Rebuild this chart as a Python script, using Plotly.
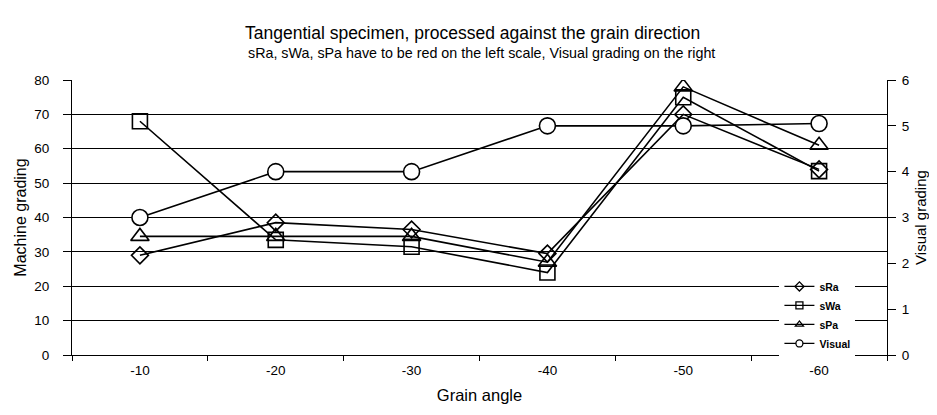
import plotly.graph_objects as go

categories = ["-10", "-20", "-30", "-40", "-50", "-60"]
sRa = [29.0, 38.5, 36.5, 29.5, 70.0, 54.0]
sWa = [68.0, 33.5, 31.5, 24.0, 75.0, 53.5]
sPa = [34.5, 34.5, 34.5, 27.0, 78.0, 61.0]
visual = [3.0, 4.0, 4.0, 5.0, 5.0, 5.05]

left_ticks = [0, 10, 20, 30, 40, 50, 60, 70, 80]
right_ticks = [0, 1, 2, 3, 4, 5, 6]

FONT = "Liberation Sans"
line_style = dict(color="black", width=1.6)

series = [
    ("sRa", sRa, "y", "diamond-open", 13, "black"),
    ("sWa", sWa, "y", "square-open", 15, "black"),
    ("sPa", sPa, "y", "triangle-up-open", 16, "black"),
    ("Visual", visual, "y2", "circle", 16, "white"),
]

fig = go.Figure()
for name, vals, yax, sym, size, fill in series:
    fig.add_trace(go.Scatter(
        x=categories, y=vals, name=name, mode="lines+markers", yaxis=yax,
        line=line_style, legendgroup=name, showlegend=False,
        marker=dict(symbol=sym, size=size, color=fill,
                    line=dict(width=1.6, color="black"))))
# small legend swatches (legend only)
for name, vals, yax, sym, size, fill in series:
    fig.add_trace(go.Scatter(
        x=[None], y=[None], name=name, mode="lines+markers", yaxis=yax,
        line=dict(color="black", width=1.3), legendgroup=name, showlegend=True,
        marker=dict(symbol=sym, size=7, color=fill,
                    line=dict(width=1.3, color="black"))))

# page body has an 8px margin: figure is sized to fit the 937x415 window exactly
fig.update_layout(
    width=921, height=399,
    paper_bgcolor="white", plot_bgcolor="white",
    margin=dict(l=64, r=42, t=72, b=52, autoexpand=False),
    font=dict(family=FONT, color="black", size=13),
    showlegend=True,
    legend=dict(x=0.868, y=0.302, xanchor="left", yanchor="top",
                bgcolor="white", borderwidth=0, itemsizing="trace",
                font=dict(family=FONT, size=10.5, weight="bold"),
                tracegroupgap=0, itemwidth=30),
    xaxis=dict(type="category", range=[-0.5, 5.5], showgrid=False,
               showline=True, linecolor="black", linewidth=1.2, automargin=False,
               ticks="outside", tickson="boundaries", ticklen=5,
               tickcolor="black", tickfont=dict(size=13.5), ticklabelstandoff=3,
               title=dict(text="Grain angle", font=dict(size=16.5), standoff=12)),
    yaxis=dict(range=[0, 80], tickvals=left_ticks, showgrid=True,
               gridcolor="black", gridwidth=1, zeroline=False, automargin=False,
               showline=True, linecolor="black", linewidth=1.2,
               ticks="outside", ticklen=8, tickcolor="black",
               tickfont=dict(size=13.5), ticklabelstandoff=11,
               title=dict(text="Machine grading", font=dict(size=16), standoff=3)),
    yaxis2=dict(range=[0, 6], tickvals=right_ticks, overlaying="y", side="right",
                showgrid=False, zeroline=False, automargin=False,
                showline=True, linecolor="black", linewidth=1.2,
                ticks="outside", ticklen=8, tickcolor="black",
                tickfont=dict(size=13.5), ticklabelstandoff=3,
                title=dict(text="Visual grading", font=dict(size=15), standoff=7)),
    annotations=[
        dict(text="Tangential specimen, processed against the grain direction",
             xref="paper", yref="paper", x=0.491, y=1.0, yanchor="bottom",
             yshift=35, showarrow=False, font=dict(size=17.5)),
        dict(text="sRa, sWa, sPa have to be red on the left scale, Visual grading on the right",
             xref="paper", yref="paper", x=0.502, y=1.0, yanchor="bottom",
             yshift=17, showarrow=False, font=dict(size=14.3)),
    ],
)

fig.write_html("out.html")
